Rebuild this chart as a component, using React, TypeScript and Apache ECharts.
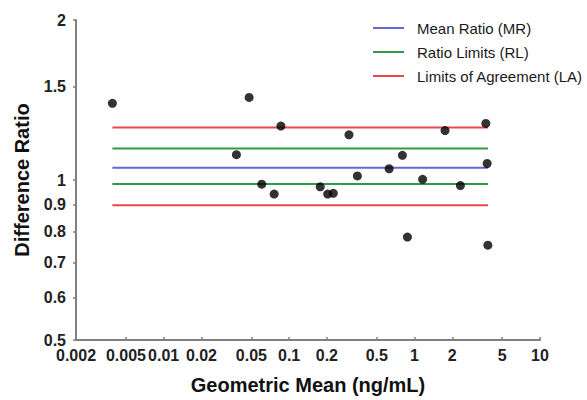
import React, { useEffect, useRef } from "react";
import * as echarts from "echarts";

// Axis ticks
const X_TICKS = [0.002, 0.005, 0.01, 0.02, 0.05, 0.1, 0.2, 0.5, 1, 2, 5, 10];
const X_TICK_LABELS = ["0.002", "0.005", "0.01", "0.02", "0.05", "0.1", "0.2", "0.5", "1", "2", "5", "10"];
const Y_TICKS = [0.5, 0.6, 0.7, 0.8, 0.9, 1, 1.5, 2];
const Y_TICK_LABELS = ["0.5", "0.6", "0.7", "0.8", "0.9", "1", "1.5", "2"];

// Scatter data (geometric mean, difference ratio)
const geoMean = [0.0039, 0.048, 0.086, 0.038, 0.0605, 0.076, 0.30, 1.75, 3.7, 0.80, 3.79, 0.627, 0.35, 1.16, 2.32, 0.177, 0.203, 0.225, 0.877, 3.84];
const diffRatio = [1.394, 1.43, 1.263, 1.116, 0.982, 0.941, 1.216, 1.239, 1.278, 1.113, 1.074, 1.05, 1.018, 1.003, 0.976, 0.971, 0.941, 0.944, 0.781, 0.754];

// Reference lines
const lineRange = [0.0039, 3.85];
const meanRatio = 1.055;
const ratioLimits = [0.983, 1.146];
const limitsOfAgreement = [0.896, 1.256];

const SERIES_NAMES = ["Mean Ratio (MR)", "Ratio Limits (RL)", "Limits of Agreement (LA)"];
const COLORS = ["#6666d6", "#2f9a4a", "#e8474c"];

const FONT = "'Liberation Sans', Arial, sans-serif";
const L = Math.log10;

function hLine(name: string, y: number, color: string) {
  return {
    name,
    type: "line",
    data: lineRange.map((x) => [L(x), L(y)]),
    symbol: "none",
    lineStyle: { color, width: 2 },
    itemStyle: { color },
    silent: true,
    z: 2,
  };
}

function labelFor(ticks: number[], labels: string[], v: number) {
  for (let i = 0; i < ticks.length; i++) {
    if (Math.abs(L(ticks[i]) - v) < 1e-6) return labels[i];
  }
  return "";
}

export default function App() {
  const ref = useRef<HTMLDivElement>(null);
  useEffect(() => {
    if (!ref.current) return;
    const chart = echarts.init(ref.current, null, { renderer: "svg" });
    const option: any = {
      animation: false,
      backgroundColor: "#ffffff",
      textStyle: { fontFamily: FONT },
      grid: { left: 76, right: 47, top: 20, bottom: 55, containLabel: false },
      legend: {
        orient: "vertical",
        left: 368,
        top: 14,
        data: SERIES_NAMES,
        icon: "rect",
        itemWidth: 31,
        itemHeight: 2,
        itemGap: 6,
        selectedMode: false,
        textStyle: { fontFamily: FONT, fontSize: 15, color: "#1a1a1a", padding: [0, 0, 0, 8], lineHeight: 18 },
      },
      xAxis: {
        type: "value",
        min: L(0.002),
        max: L(10),
        name: "Geometric Mean (ng/mL)",
        nameLocation: "middle",
        nameGap: 35,
        nameTextStyle: { fontFamily: FONT, fontSize: 20, fontWeight: "bold", color: "#111" },
        axisLine: { show: true, onZero: false, lineStyle: { color: "#808080", width: 2 } },
        axisTick: { show: true, inside: true, length: 3, customValues: X_TICKS.map(L), lineStyle: { color: "#808080", width: 1.5 } },
        axisLabel: {
          customValues: X_TICKS.map(L),
          formatter: (v: number) => labelFor(X_TICKS, X_TICK_LABELS, v),
          fontFamily: FONT,
          fontSize: 16,
          fontWeight: "bold",
          color: "#222",
          margin: 7,
        },
        splitLine: { show: false },
      },
      yAxis: {
        type: "value",
        min: L(0.5),
        max: L(2),
        name: "Difference Ratio",
        nameLocation: "middle",
        nameGap: 44,
        nameRotate: 90,
        nameTextStyle: { fontFamily: FONT, fontSize: 20, fontWeight: "bold", color: "#111" },
        axisLine: { show: true, onZero: false, lineStyle: { color: "#808080", width: 2 } },
        axisTick: { show: true, length: 3, customValues: Y_TICKS.map(L), lineStyle: { color: "#808080", width: 1.5 } },
        axisLabel: {
          customValues: Y_TICKS.map(L),
          formatter: (v: number) => labelFor(Y_TICKS, Y_TICK_LABELS, v),
          fontFamily: FONT,
          fontSize: 16,
          fontWeight: "bold",
          color: "#222",
          margin: 10,
        },
        splitLine: { show: false },
      },
      series: [
        hLine(SERIES_NAMES[0], meanRatio, COLORS[0]),
        hLine(SERIES_NAMES[1], ratioLimits[0], COLORS[1]),
        hLine(SERIES_NAMES[1], ratioLimits[1], COLORS[1]),
        hLine(SERIES_NAMES[2], limitsOfAgreement[0], COLORS[2]),
        hLine(SERIES_NAMES[2], limitsOfAgreement[1], COLORS[2]),
        {
          name: "data",
          type: "scatter",
          data: geoMean.map((x, i) => [L(x), L(diffRatio[i])]),
          symbol: "circle",
          symbolSize: 9,
          itemStyle: { color: "#000" },
          z: 5,
        },
      ],
    };
    chart.setOption(option);
    return () => chart.dispose();
  }, []);
  return <div ref={ref} style={{ position: "fixed", left: 0, top: 0, width: 587, height: 400 }} />;
}
